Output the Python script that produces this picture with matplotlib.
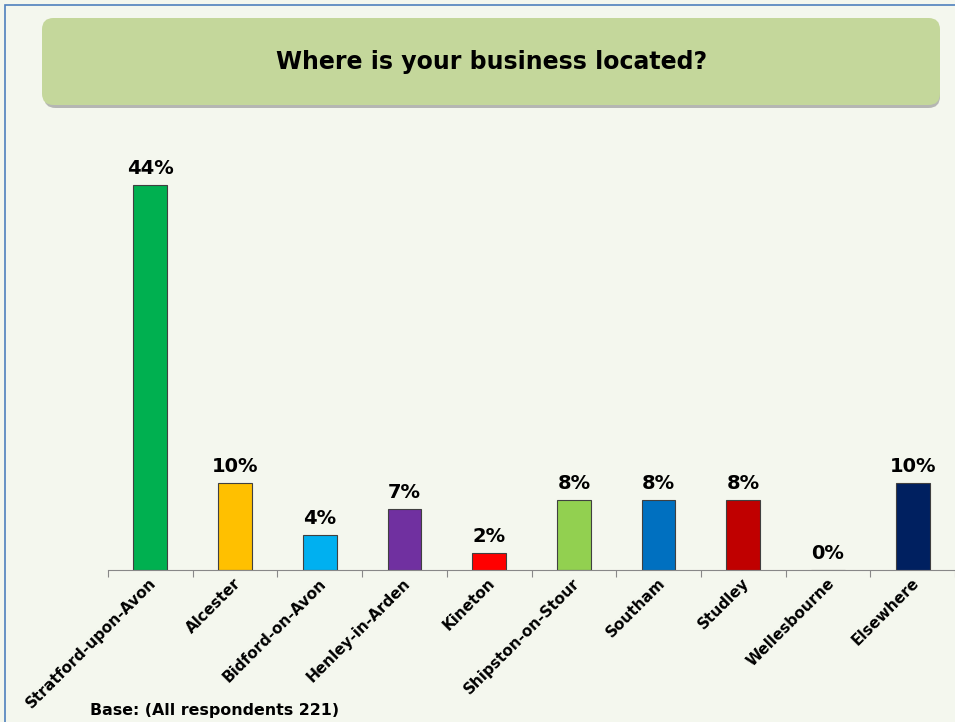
import matplotlib.pyplot as plt
from matplotlib.patches import FancyBboxPatch, Rectangle

locations = ['Stratford-upon-Avon', 'Alcester', 'Bidford-on-Avon', 'Henley-in-Arden', 'Kineton',
             'Shipston-on-Stour', 'Southam', 'Studley', 'Wellesbourne', 'Elsewhere']
shares = [44, 10, 4, 7, 2, 8, 8, 8, 0, 10]
colors = ['#00B050', '#FFC000', '#00B0F0', '#7030A0', '#FF0000',
          '#92D050', '#0070C0', '#C00000', '#A6A6A6', '#002060']

W, H = 955, 722
bg = '#F4F7EE'
fig = plt.figure(figsize=(W / 100, H / 100), dpi=100, facecolor=bg)

# outer frame (only top and left edges visible)
fig.patches.append(Rectangle((5 / W, -0.1), 1.2, 1 - 5 / H + 0.1, transform=fig.transFigure,
                             fill=False, edgecolor='#4F81BD', linewidth=1.2))

# title box with shadow
fig.patches.append(FancyBboxPatch((44 / W, 1 - 108 / H), 896 / W, 86 / H, transform=fig.transFigure,
                                  boxstyle='round,pad=0,rounding_size=0.012',
                                  facecolor='#8C8C8C', edgecolor='none', alpha=0.6, mutation_aspect=W / H))
fig.patches.append(FancyBboxPatch((42 / W, 1 - 105 / H), 898 / W, 87 / H, transform=fig.transFigure,
                                  boxstyle='round,pad=0,rounding_size=0.012',
                                  facecolor='#C4D79B', edgecolor='none', mutation_aspect=W / H))
fig.text(492 / W, 1 - 62 / H, 'Where is your business located?', ha='center', va='center',
         fontsize=17, fontweight='bold', color='black')

ax = fig.add_axes([108 / W, 1 - 570 / H, (W - 108) / W, 420 / H])
ax.set_facecolor(bg)
x = list(range(len(locations)))
ax.bar(x, shares, width=0.4, color=colors, edgecolor='#404040', linewidth=0.8)
for xi, v in zip(x, shares):
    ax.text(xi, v + 0.8, f'{v}%', ha='center', va='bottom', fontsize=14, fontweight='bold')

ax.set_xlim(-0.5, len(locations) - 0.5)
ax.set_ylim(0, 48)
for s in ['top', 'right', 'left']:
    ax.spines[s].set_visible(False)
ax.spines['bottom'].set_color('#888888')
ax.set_yticks([])
ax.set_xticks([i - 0.5 for i in range(len(locations) + 1)])
ax.set_xticklabels([])
ax.tick_params(axis='x', length=5, color='#888888', direction='out')
for xi, name in zip(x, locations):
    ax.annotate(name, xy=(xi, 0), xytext=(-1, -4), textcoords='offset points',
                rotation=45, ha='right', va='top', rotation_mode='anchor',
                fontsize=11, fontweight='bold')

fig.text(90 / W, 1 - 710 / H, 'Base: (All respondents 221)', ha='left', va='center',
         fontsize=11.4, fontweight='bold')

fig.savefig('out.png', dpi=100, facecolor=bg)
